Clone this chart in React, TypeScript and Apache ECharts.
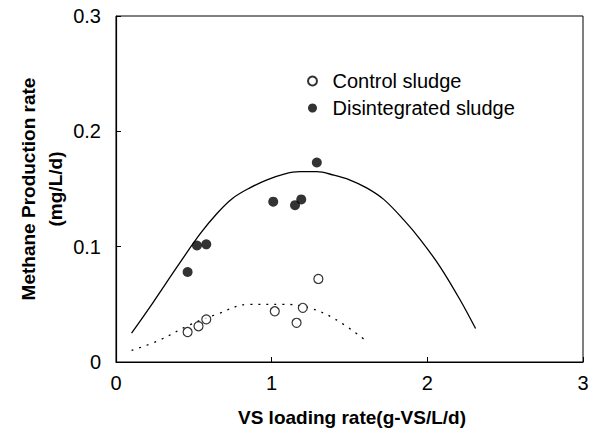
import React, { useEffect, useRef } from "react";
import * as echarts from "echarts";

const xTicks = [0, 1, 2, 3];
const yTicks = [0, 0.1, 0.2, 0.3];

const controlX = [0.46, 0.53, 0.58, 1.02, 1.16, 1.2, 1.3];
const controlY = [0.026, 0.031, 0.037, 0.044, 0.034, 0.047, 0.072];

const disX = [0.46, 0.52, 0.58, 1.01, 1.15, 1.19, 1.29];
const disY = [0.078, 0.101, 0.102, 0.139, 0.136, 0.141, 0.173];

const fitDisX = [0.1, 0.24, 0.39, 0.54, 0.65, 0.75, 0.86, 0.97, 1.08, 1.18, 1.29, 1.4, 1.5, 1.61, 1.72, 1.85, 1.95, 2.08, 2.21, 2.31];
const fitDisY = [0.025, 0.052, 0.082, 0.111, 0.129, 0.142, 0.151, 0.158, 0.163, 0.165, 0.165, 0.162, 0.158, 0.151, 0.141, 0.123, 0.107, 0.083, 0.054, 0.029];

const fitCtrlX = [0.1, 0.28, 0.47, 0.64, 0.86, 1.07, 1.24, 1.41, 1.6];
const fitCtrlY = [0.01, 0.019, 0.032, 0.041, 0.05, 0.05, 0.047, 0.037, 0.019];

const xTitle = "VS loading rate(g-VS/L/d)";
const yTitle = "Methane Production rate\n(mg/L/d)";

const FONT = "Liberation Sans, Arial, sans-serif";

const zip = (xs: number[], ys: number[]) => xs.map((x, i) => [x, ys[i]]);

export default function App() {
  const ref = useRef<HTMLDivElement>(null);
  useEffect(() => {
    if (!ref.current) return;
    const chart = echarts.init(ref.current, null, { renderer: "svg" });
    chart.setOption({
      animation: false,
      backgroundColor: "#fff",
      grid: {
        left: 116,
        top: 16,
        width: 467,
        height: 346,
        show: true,
        borderColor: "#000",
        borderWidth: 1,
      },
      xAxis: {
        type: "value",
        min: xTicks[0],
        max: xTicks[xTicks.length - 1],
        interval: 1,
        axisLine: { show: true, onZero: false, lineStyle: { color: "#000", width: 1.2 } },
        axisTick: { show: true, inside: true, length: 5, lineStyle: { color: "#000" } },
        splitLine: { show: false },
        axisLabel: { color: "#000", fontSize: 20, fontFamily: FONT, margin: 11 },
      },
      yAxis: {
        type: "value",
        min: yTicks[0],
        max: yTicks[yTicks.length - 1],
        interval: 0.1,
        name: yTitle,
        nameLocation: "middle",
        nameRotate: 90,
        nameGap: 47,
        nameMoveOverlap: false,
        nameTextStyle: {
          color: "#000",
          fontSize: 19,
          fontWeight: "bold",
          fontFamily: FONT,
          lineHeight: 27,
          align: "center",
        },
        axisLine: { show: true, onZero: false, lineStyle: { color: "#000", width: 1.2 } },
        axisTick: { show: true, inside: true, length: 5, lineStyle: { color: "#000" } },
        splitLine: { show: false },
        axisLabel: { color: "#000", fontSize: 20, fontFamily: FONT, margin: 15 },
      },
      legend: {
        orient: "vertical",
        left: 302,
        top: 66,
        itemWidth: 30,
        itemHeight: 9,
        itemGap: 7,
        data: ["Control sludge", "Disintegrated sludge"],
        textStyle: { color: "#000", fontSize: 20, fontFamily: FONT },
      },
      graphic: [
        {
          type: "text",
          x: 352,
          y: 417,
          style: {
            text: xTitle,
            fontSize: 19,
            fontWeight: "bold",
            fontFamily: FONT,
            fill: "#000",
            align: "center",
            verticalAlign: "middle",
          },
        },
      ],
      series: [
        {
          name: "Control sludge",
          type: "scatter",
          symbol: "circle",
          symbolSize: 9,
          itemStyle: { color: "#fff", borderColor: "#000", borderWidth: 1.2 },
          data: zip(controlX, controlY),
          z: 5,
        },
        {
          name: "Disintegrated sludge",
          type: "scatter",
          symbol: "circle",
          symbolSize: 10,
          itemStyle: { color: "#000" },
          data: zip(disX, disY),
          z: 5,
        },
        {
          name: "fit-dis",
          type: "line",
          smooth: 0.35,
          showSymbol: false,
          symbol: "none",
          lineStyle: { color: "#000", width: 1.3 },
          data: zip(fitDisX, fitDisY),
        },
        {
          name: "fit-ctrl",
          type: "line",
          smooth: 0.4,
          showSymbol: false,
          symbol: "none",
          lineStyle: { color: "#000", width: 1.3, type: [2, 6] },
          data: zip(fitCtrlX, fitCtrlY),
        },
      ],
    });
    return () => chart.dispose();
  }, []);
  return (
    <div
      ref={ref}
      style={{ position: "absolute", left: 0, top: 0, width: 595, height: 434 }}
    />
  );
}
